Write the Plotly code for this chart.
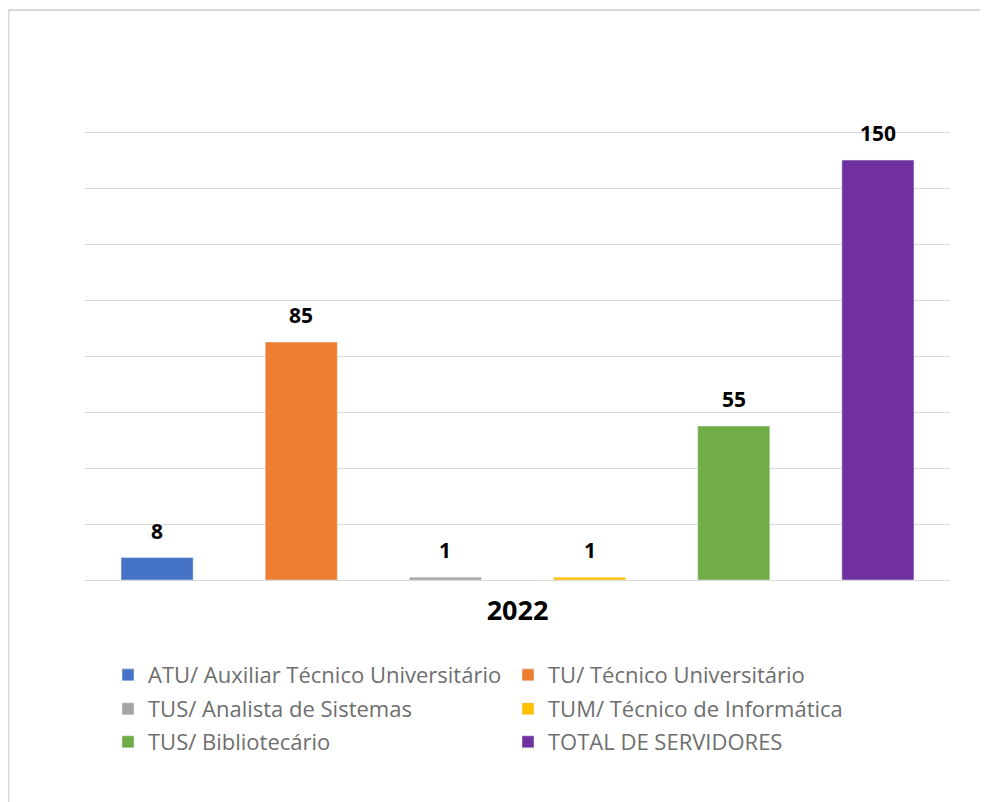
import plotly.graph_objects as go

categories = ["ATU/ Auxiliar Técnico Universitário", "TU/ Técnico Universitário",
              "TUS/ Analista de Sistemas", "TUM/ Técnico de Informática",
              "TUS/ Bibliotecário", "TOTAL DE SERVIDORES"]
values = [8, 85, 1, 1, 55, 150]
colors = ["#4472C4", "#ED7D31", "#A5A5A5", "#FFC000", "#70AD47", "#7030A0"]
year_label = ["2022"]

FONT = "Open Sans"
W, H = 980, 794
# page is offset by 8px body margin; positions below are figure coordinates
L, T = 77, 123
PLOT_R, PLOT_B = 942, 572
R, B = W - PLOT_R, H - PLOT_B
pw, ph = PLOT_R - L, PLOT_B - T

def px_x(p):
    return (p - L) / pw

def px_y(p):
    return (PLOT_B - p) / ph

legend_rows = ["legend", "legend2", "legend3"]
row_y = [667, 701, 734]

fig = go.Figure()
for i, (c, v, col) in enumerate(zip(categories, values, colors)):
    fig.add_trace(go.Bar(x=[i], y=[v], name=c, marker_color=col, width=0.5,
                         hoverinfo="name+y", legend=legend_rows[i // 2]))
    fig.add_annotation(x=i, y=v, text=f"<b>{v}</b>", showarrow=False,
                       yanchor="middle", yshift=27,
                       font=dict(family=FONT, size=21, color="#000000"))

legend_common = dict(orientation="h", x=px_x(100), xanchor="left",
                     yanchor="middle", entrywidth=355, entrywidthmode="pixels",
                     font=dict(family=FONT, size=22, color="#6E6E6E"),
                     itemclick=False, bgcolor="rgba(0,0,0,0)")
legends = {}
for name, y in zip(legend_rows, row_y):
    legends[name] = dict(legend_common, y=px_y(y))

fig.update_layout(
    width=W, height=H,
    margin=dict(l=L, r=R, t=T, b=B),
    plot_bgcolor="white", paper_bgcolor="white",
    font=dict(family=FONT, color="#6E6E6E"),
    showlegend=True,
    **legends,
    xaxis=dict(range=[-0.5, 5.5], tickvals=[2.5], ticktext=year_label,
               tickfont=dict(family=FONT, size=27, color="#000000", weight="bold"),
               ticklabelstandoff=12,
               showgrid=False, zeroline=False, showline=False, ticks="", ticklen=0),
    yaxis=dict(range=[0, 160.4], tickvals=[0, 20, 40, 60, 80, 100, 120, 140, 160],
               showticklabels=False,
               showgrid=True, gridcolor="#D9D9D9", gridwidth=1,
               zeroline=True, zerolinecolor="#D9D9D9", zerolinewidth=1,
               showline=False, ticks=""),
    shapes=[
        dict(type="line", xref="paper", yref="paper", x0=px_x(0), x1=px_x(1000),
             y0=px_y(2), y1=px_y(2), line=dict(color="#D9D9D9", width=2)),
        dict(type="line", xref="paper", yref="paper", x0=px_x(0.5), x1=px_x(0.5),
             y0=px_y(2), y1=px_y(820), line=dict(color="#D9D9D9", width=2)),
    ],
)

fig.write_html("out.html")
